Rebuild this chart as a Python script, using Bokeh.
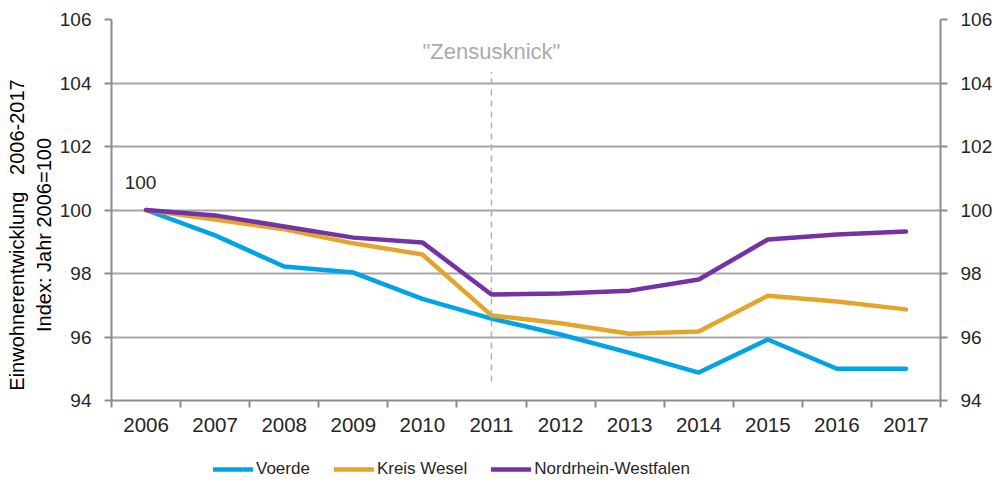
from bokeh.plotting import figure
from bokeh.layouts import column
from bokeh.models import (Range1d, LinearAxis, FixedTicker, Legend, LegendItem)
from bokeh.core.properties import value
from bokeh.embed import file_html
from bokeh.resources import INLINE

years = ["2006", "2007", "2008", "2009", "2010", "2011", "2012", "2013", "2014", "2015", "2016", "2017"]
voerde = [100.0, 99.2, 98.22, 98.03, 97.2, 96.58, 96.08, 95.5, 94.88, 95.92, 95.0, 95.0]
kreis_wesel = [100.0, 99.7, 99.39, 98.95, 98.6, 96.68, 96.43, 96.1, 96.17, 97.3, 97.12, 96.87]
nrw = [100.0, 99.83, 99.48, 99.13, 98.98, 97.34, 97.37, 97.46, 97.81, 99.07, 99.23, 99.32]
y_ticks = [94, 96, 98, 100, 102, 104, 106]
series_names = ["Voerde", "Kreis Wesel", "Nordrhein-Westfalen"]
series_colors = ["#00A3E6", "#E3A52A", "#7432A3"]
NB = "\u00a0"
y_title = ("Einwohnerentwicklung" + NB * 3 + "2006-2017" + NB * 9 + "\n"
           + "Index: Jahr 2006=100" + NB * 9)

FONT = "Liberation Sans"
xs = [i + 0.5 for i in range(len(years))]

p = figure(frame_width=829, frame_height=381, output_backend="svg", toolbar_location=None,
           x_range=Range1d(0, len(years)), y_range=Range1d(94, 106),
           min_border_left=111, min_border_right=50, min_border_top=19, min_border_bottom=50)
p.outline_line_color = None
p.background_fill_color = "white"
p.border_fill_color = "white"

# x axis
xa = p.xaxis[0]
xa.ticker = FixedTicker(ticks=xs, minor_ticks=list(range(len(years) + 1)))
xa.major_label_overrides = {x: y for x, y in zip(xs, years)}
xa.major_tick_line_color = None
xa.minor_tick_out = 7
xa.minor_tick_in = 0
xa.minor_tick_line_color = "#8c8c8c"
xa.minor_tick_line_width = 2
xa.axis_line_color = "#8c8c8c"
xa.axis_line_width = 2
xa.major_label_text_font = FONT
xa.major_label_text_font_size = "20.5px"
xa.major_label_text_color = "#262626"
xa.major_label_standoff = 10

# left y axis
ya = p.yaxis[0]
ya.ticker = FixedTicker(ticks=y_ticks)
ya.minor_tick_line_color = None
ya.major_tick_out = 7
ya.major_tick_in = 0
ya.major_tick_line_color = "#8c8c8c"
ya.major_tick_line_width = 2
ya.axis_line_color = "#8c8c8c"
ya.axis_line_width = 2
ya.major_label_text_font = FONT
ya.major_label_text_font_size = "19px"
ya.major_label_text_color = "#262626"
ya.major_label_standoff = 13
ya.axis_label = y_title
ya.axis_label_text_font = FONT
ya.axis_label_text_font_size = "20px"
ya.axis_label_text_font_style = "normal"
ya.axis_label_text_color = "black"
ya.axis_label_standoff = 2

# right y axis
ra = LinearAxis(ticker=FixedTicker(ticks=y_ticks))
ra.minor_tick_line_color = None
ra.major_tick_out = 7
ra.major_tick_in = 0
ra.major_tick_line_color = "#8c8c8c"
ra.major_tick_line_width = 2
ra.axis_line_color = "#8c8c8c"
ra.axis_line_width = 2
ra.major_label_text_font = FONT
ra.major_label_text_font_size = "19px"
ra.major_label_text_color = "#262626"
ra.major_label_standoff = 13
p.add_layout(ra, "right")

p.xgrid.grid_line_color = None
p.ygrid.ticker = FixedTicker(ticks=y_ticks)
p.ygrid.grid_line_color = "#a6a6a6"
p.ygrid.grid_line_width = 2

# Zensusknick
zx = xs[years.index("2011")]
p.segment(x0=[zx], y0=[94.6], x1=[zx], y1=[104.35], line_color="#b0b0b0",
          line_width=1.5, line_dash="6 5")
p.text(x=[zx], y=[105.0], text=['"Zensusknick"'], text_font=value(FONT),
       text_font_size="22px", text_color="#ababab", text_align="center",
       text_baseline="middle")

# lines
for data, col in zip([voerde, kreis_wesel, nrw], series_colors):
    p.line(xs, data, line_color=col, line_width=4.5, line_join="round", line_cap="round")

# "100" label
p.text(x=[xs[0] - 0.08], y=[voerde[0] + 0.88], text=["100"], text_font=value(FONT),
       text_font_size="19px", text_color="#262626", text_align="center",
       text_baseline="middle")

# legend strip below the chart (its glyph lines lie outside its ranges, only the legend shows)
lg = figure(width=978, height=32, output_backend="svg", toolbar_location=None,
            x_range=Range1d(0, 1), y_range=Range1d(0, 1),
            x_axis_type=None, y_axis_type=None,
            min_border_left=0, min_border_right=0, min_border_top=0, min_border_bottom=0)
lg.outline_line_color = None
lg.xgrid.grid_line_color = None
lg.ygrid.grid_line_color = None
lg.background_fill_color = "white"
lg.border_fill_color = "white"
items = []
for name, col in zip(series_names, series_colors):
    r = lg.line(x=[5, 6], y=[5, 6], line_color=col, line_width=4.5, line_cap="round")
    items.append(LegendItem(label=name, renderers=[r]))
legend = Legend(items=items, orientation="horizontal", location=(102, 3),
                border_line_color=None, background_fill_alpha=0,
                label_text_font=FONT, label_text_font_size="17px",
                label_text_color="#262626", glyph_width=40, glyph_height=20,
                label_height=18, label_standoff=3, spacing=24, padding=2, margin=0)
lg.add_layout(legend, "center")

layout = column(p, lg, spacing=0)
open("out.html", "w").write(file_html(layout, INLINE))
